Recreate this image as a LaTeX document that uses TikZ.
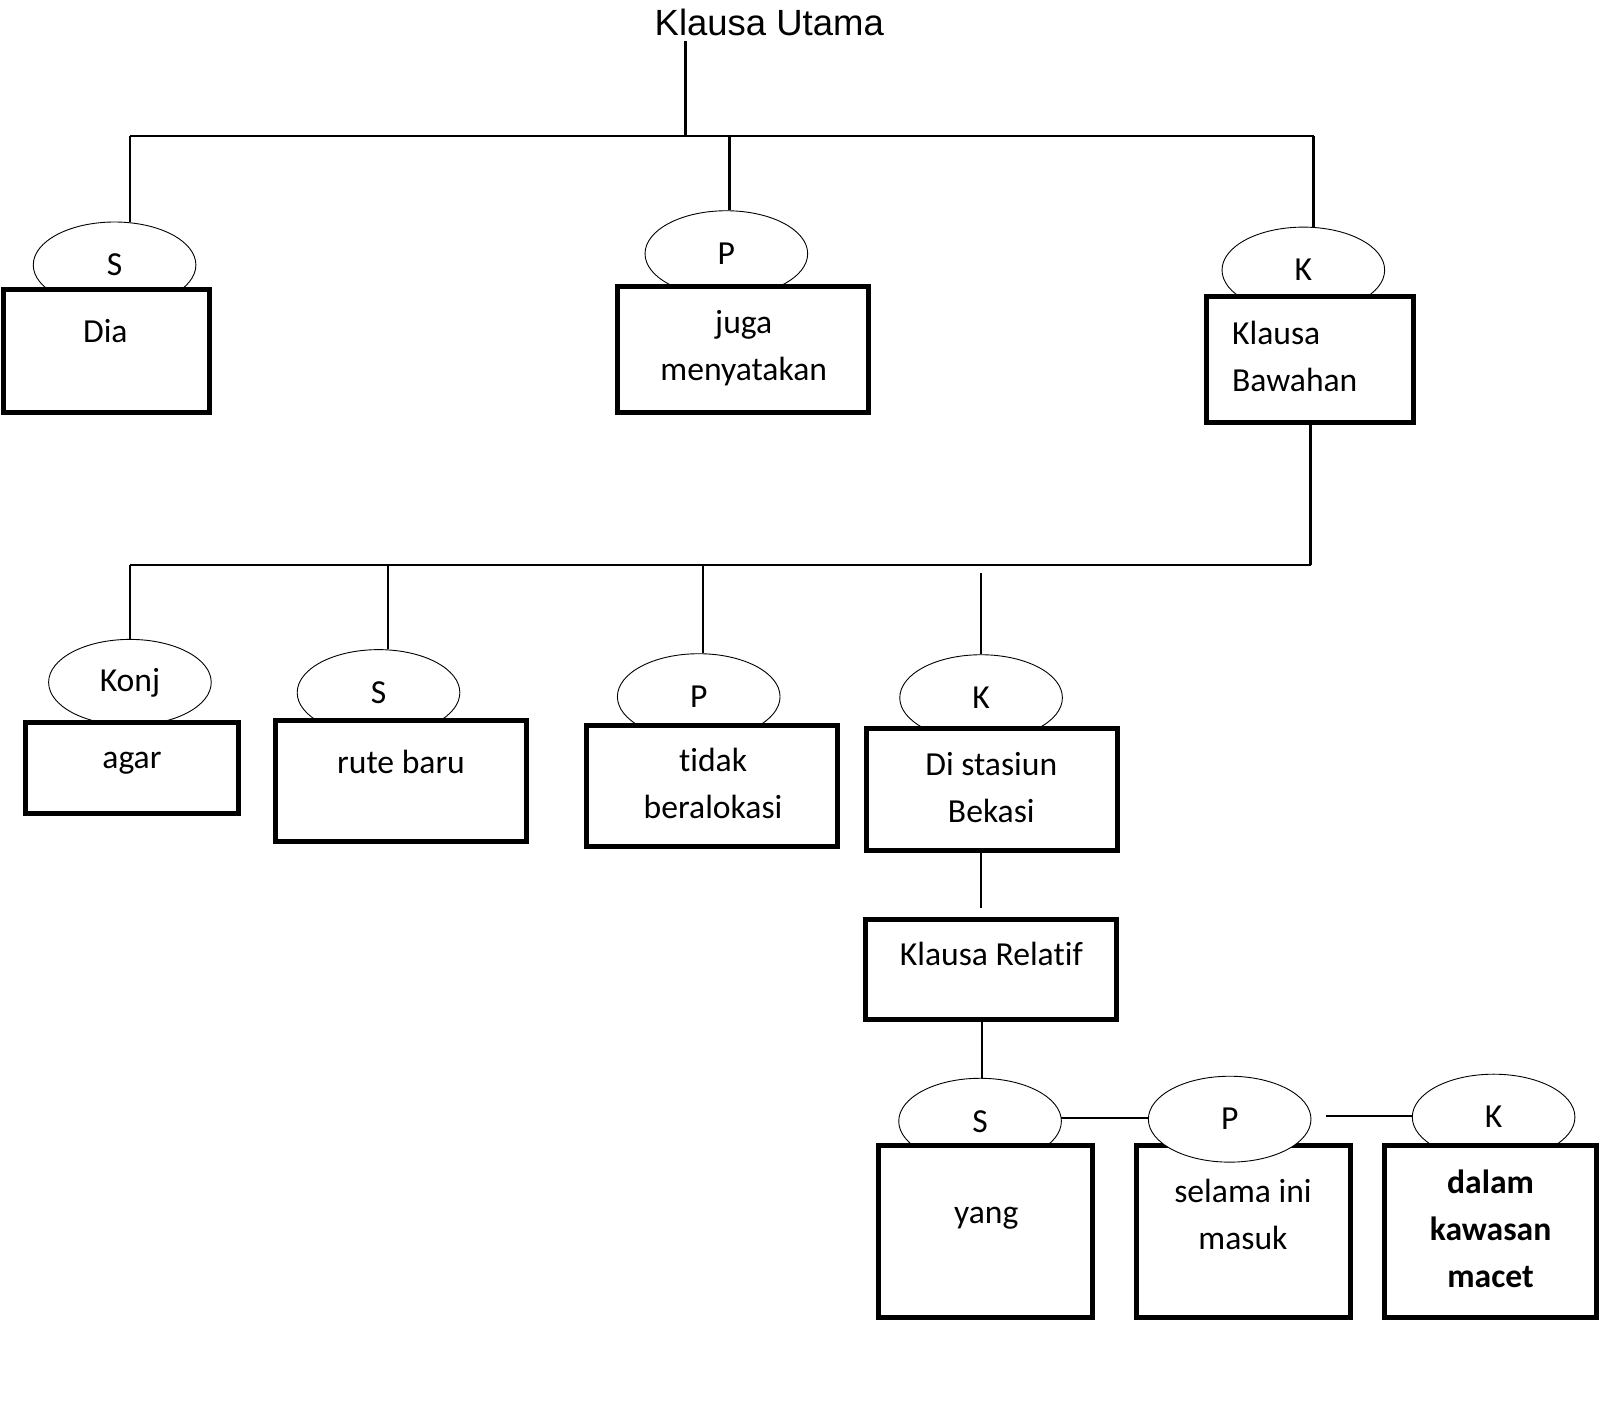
\documentclass[tikz,border=0pt]{standalone}
\usepackage{fontspec}
\setmainfont{Carlito}[Ligatures=NoCommon]
\newfontfamily\arialf{Liberation Sans}
\usetikzlibrary{shapes.geometric}
\tikzset{
  ell/.style={ellipse, draw, line width=0.5pt, fill=white, minimum width=3.18cm, minimum height=1.68cm, inner sep=0pt,
    font=\fontsize{18.7}{26.2}\selectfont},
  boxn/.style={draw, line width=2.8pt, fill=white, inner sep=0pt},
  txt/.style={inner sep=0pt, font=\fontsize{18.7}{26.2}\selectfont, text height=0.65em, text depth=0.2em},
  mtxt/.style={inner sep=0pt, font=\fontsize{18.7}{26.2}\selectfont, align=center},
  conn/.style={line width=1.3pt},
}
\begin{document}
\begin{tikzpicture}[x=0.02cm,y=-0.02cm]
\useasboundingbox (0,0) rectangle (1564,1395);
% title
\node[inner sep=0pt, font=\arialf\fontsize{20.3}{24}\selectfont] (title) at (752,22) {Klausa Utama};
% top level ellipses
\node[ell] (E1) at (112,259) {S};
\node[ell] (E2) at (710,248) {P};
\node[ell] (E3) at (1274,264) {K};
% top level boxes
\node[boxn, minimum width=4.04cm, minimum height=2.40cm] (B1) at (104,343) {};
\node[boxn, minimum width=4.90cm, minimum height=2.46cm] (B2) at (726.5,341.5) {};
\node[boxn, minimum width=4.06cm, minimum height=2.46cm] (B3) at (1280.5,351.5) {};
\node[txt] (T1) at (103,331) {Dia};
\node[mtxt] (T2) at (727,340) {juga\\menyatakan};
\node[mtxt, align=left, anchor=west] (T3) at (1204,348) {Klausa\\Bawahan};
% connectors top
\coordinate (t0) at (670,40);
\coordinate (t1) at (670,133);
\coordinate (hL) at (127,133);
\coordinate (hR) at (1284,133);
\coordinate (hP) at (713,133);
\draw[conn] (t0) -- (t1);
\draw[conn] (hL) -- (hR);
\draw[conn] (hL) -- (127,217);
\draw[conn] (hP) -- (hP |- E2.north);
\draw[conn] (hR) -- (hR |- E3.north);
% second level
\coordinate (mR) at (1281,552);
\coordinate (mL) at (127,552);
\coordinate (mS) at (379,552);
\coordinate (mP) at (687,552);
\coordinate (mK) at (959,560);
\draw[conn] (B3.south -| mR) -- (mR);
\draw[conn] (mL) -- (mR);
\node[ell] (E4) at (127,667) {Konj};
\node[ell] (E5) at (370,677) {S};
\node[ell] (E6) at (683,681) {P};
\node[ell] (E7) at (959,682) {K};
\draw[conn] (mL) -- (E4.north);
\draw[conn] (mS) -- (mS |- E5.north);
\draw[conn] (mP) -- (mP |- E6.north);
\draw[conn] (mK) -- (E7.north);
\node[boxn, minimum width=4.16cm, minimum height=1.78cm] (B4) at (129,750.5) {};
\node[boxn, minimum width=4.92cm, minimum height=2.38cm] (B5) at (392,763.5) {};
\node[boxn, minimum width=4.92cm, minimum height=2.36cm] (B6) at (696,768) {};
\node[boxn, minimum width=4.90cm, minimum height=2.38cm] (B7) at (969.5,771.5) {};
\node[txt] (T4) at (129,747) {agar};
\node[txt] (T5) at (392,752) {rute baru};
\node[mtxt] (T6) at (697,766) {tidak\\beralokasi};
\node[mtxt] (T7) at (969,770) {Di stasiun\\Bekasi};
% relative clause
\node[boxn, minimum width=4.90cm, minimum height=1.96cm] (B8) at (968.5,948) {};
\node[txt] (T8) at (969,940) {Klausa Relatif};
\coordinate (r0) at (959,888);
\draw[conn] (B7.south -| r0) -- (r0);
% bottom level
\node[ell] (E8) at (958,1096) {S};
\node[ell] (E10) at (1460,1092) {K};
\node[boxn, minimum width=4.18cm, minimum height=3.36cm] (B9) at (963.5,1204) {};
\node[boxn, minimum width=4.18cm, minimum height=3.36cm] (B10) at (1215.5,1204) {};
\node[boxn, minimum width=4.16cm, minimum height=3.36cm] (B11) at (1457,1204) {};
\node[ell] (E9) at (1202,1094) {P};
\node[txt] (T9) at (964,1192) {yang};
\node[mtxt] (T10) at (1215,1187) {selama ini\\masuk};
\node[mtxt, font=\bfseries\fontsize{18.7}{26.2}\selectfont] (T11) at (1457,1201) {dalam\\kawasan\\macet};
\coordinate (r1) at (960,1000);
\draw[conn] (B8.south -| r1) -- (E8.north -| r1);
\coordinate (s1) at (1037,1093);
\draw[conn] (s1) -- (s1 -| E9.west);
\coordinate (g1) at (1296,1091);
\draw[conn] (g1) -- (g1 -| E10.west);
\end{tikzpicture}
\end{document}
